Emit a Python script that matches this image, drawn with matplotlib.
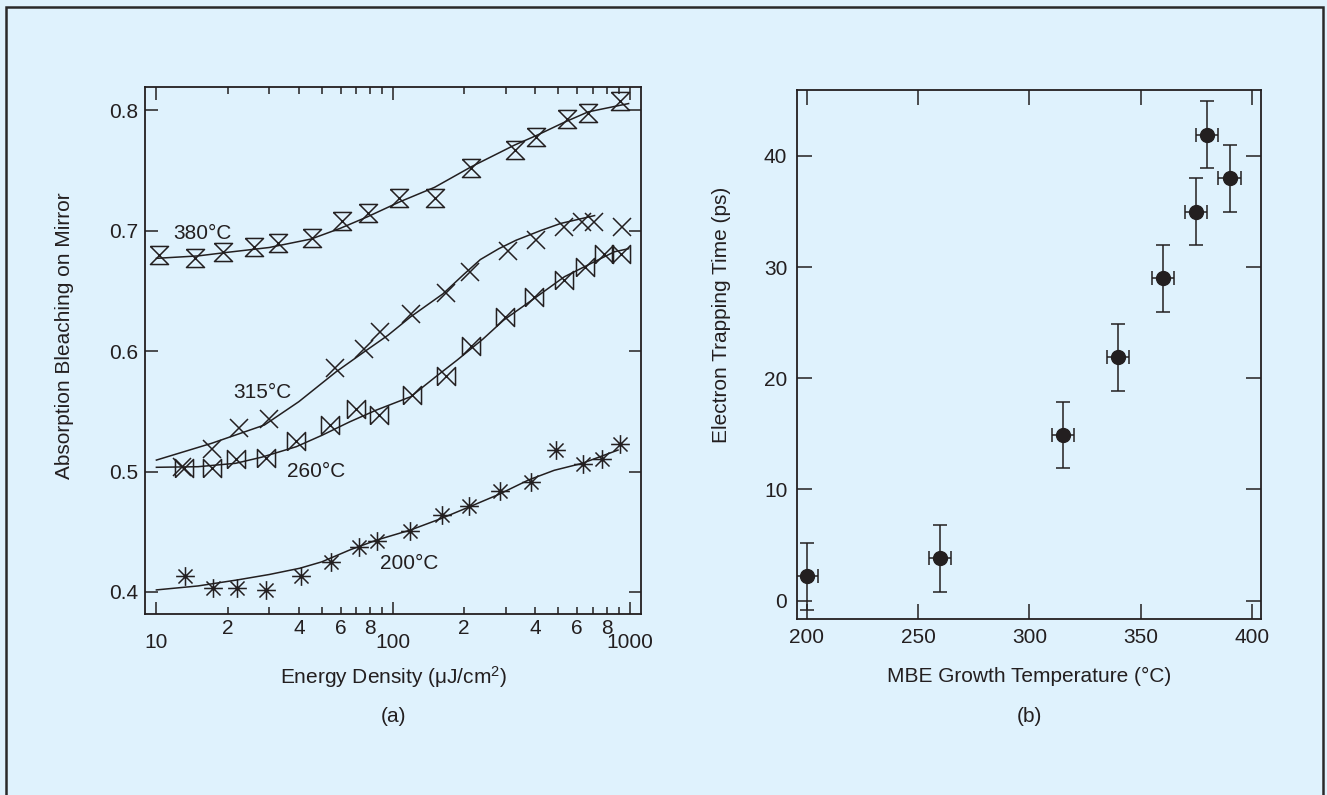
import numpy as np
import matplotlib
matplotlib.use("Agg")
import matplotlib.pyplot as plt
from matplotlib.path import Path
from matplotlib.patches import Rectangle
from matplotlib.ticker import FixedLocator, FuncFormatter

plt.rcParams['font.family'] = ['Liberation Sans', 'DejaVu Sans']
plt.rcParams['mathtext.fontset'] = 'custom'
plt.rcParams['mathtext.rm'] = 'Liberation Sans'
plt.rcParams['mathtext.it'] = 'Liberation Sans:italic'

ink = '#231f20'
bg = '#dff2fd'

# (a) absorption bleaching vs energy density, one series per growth temperature
e380 = [10.25, 14.5, 19.2, 25.8, 32.6, 45.4, 60.8, 78.3, 106, 150, 214, 328, 404, 543, 668, 907]
a380 = [0.680, 0.677, 0.682, 0.686, 0.690, 0.694, 0.708, 0.715, 0.727, 0.727, 0.752, 0.767, 0.778, 0.793, 0.798, 0.808]
fit380_e = [10, 15, 20, 30, 45, 60, 78, 107, 150, 214, 326, 404, 530, 668, 990]
fit380_a = [0.677, 0.679, 0.682, 0.686, 0.693, 0.702, 0.7115, 0.724, 0.736, 0.753, 0.771, 0.779, 0.790, 0.7986, 0.8055]

e315 = [12.8, 17.1, 22.3, 29.9, 56.7, 75.6, 88.5, 118.8, 168, 211, 306, 404, 530, 630, 706, 929]
a315 = [0.504, 0.519, 0.536, 0.544, 0.586, 0.602, 0.616, 0.631, 0.648, 0.666, 0.683, 0.692, 0.703, 0.707, 0.707, 0.703]
fit315_e = [10, 17.1, 28.6, 40, 57.5, 75.6, 95, 118.8, 162.5, 200, 234, 280, 331, 420, 512, 711]
fit315_a = [0.5095, 0.5234, 0.5386, 0.558, 0.5828, 0.5994, 0.613, 0.6285, 0.6475, 0.664, 0.676, 0.685, 0.692, 0.700, 0.706, 0.7125]

e260 = [13.07, 17.1, 21.6, 29.1, 38.8, 54.4, 70.0, 86.9, 120, 168, 214, 298, 394, 530, 645, 777, 923]
a260 = [0.503, 0.503, 0.510, 0.511, 0.525, 0.539, 0.552, 0.547, 0.5635, 0.579, 0.604, 0.628, 0.645, 0.659, 0.670, 0.681, 0.681]
fit260_e = [10, 15, 21.6, 28, 39, 50, 65.7, 85, 118.8, 150, 186.6, 240, 293.5, 404, 530, 861, 990]
fit260_a = [0.5035, 0.504, 0.5068, 0.512, 0.5206, 0.530, 0.5413, 0.551, 0.5621, 0.578, 0.5925, 0.610, 0.6257, 0.645, 0.6617, 0.6824, 0.685]

e200 = [13.15, 17.4, 22.0, 29.1, 40.7, 54.8, 71.8, 85.4, 118, 161, 209, 283, 384, 490, 635, 762, 907]
a200 = [0.413, 0.403, 0.403, 0.402, 0.413, 0.425, 0.437, 0.442, 0.451, 0.464, 0.471, 0.484, 0.491, 0.518, 0.506, 0.510, 0.523]
fit200_e = [10, 15, 22, 30, 40.4, 50, 65.7, 85, 118.8, 160, 211, 280, 374, 480, 630, 893]
fit200_a = [0.4017, 0.405, 0.410, 0.4145, 0.4197, 0.425, 0.4349, 0.443, 0.4515, 0.461, 0.4708, 0.481, 0.493, 0.501, 0.5068, 0.5178]

temp_labels = ['380°C', '315°C', '260°C', '200°C']
label_e = [15.6, 28.1, 47.3, 116.8]
label_a = [0.698, 0.566, 0.500, 0.424]

# (b) electron trapping time vs MBE growth temperature
temps = [200, 260, 315, 340, 360, 375, 380, 390]
trap = [2.2, 3.8, 14.9, 21.9, 29.0, 35.0, 41.9, 38.0]
trap_err = [3, 3, 3, 3, 3, 3, 3, 3]
temp_err = [5, 5, 5, 5, 5, 5, 5, 5]

# open marker shapes
L, M = Path.LINETO, Path.MOVETO
hourglass = Path([(-1, 1), (1, 1), (-1, -1), (1, -1), (-1, 1)], [M, L, L, L, L])
bowtie = Path([(-1, -1), (-1, 1), (1, -1), (1, 1), (-1, -1)], [M, L, L, L, L])
d = 0.75
asterisk = Path([(-1, 0), (1, 0), (0, -1), (0, 1), (-d, -d), (d, d), (-d, d), (d, -d)],
                [M, L, M, L, M, L, M, L])

fig = plt.figure(figsize=(13.27, 7.95), dpi=100, facecolor=bg)
W, H = 1327, 795

def px_axes(x0, y0, x1, y1):
    return fig.add_axes([x0 / W, 1 - y1 / H, (x1 - x0) / W, (y1 - y0) / H])

ax1 = px_axes(145, 87.3, 641, 614)
ax2 = px_axes(797, 90, 1261, 618.7)

for ax in (ax1, ax2):
    ax.set_facecolor(bg)
    for s in ax.spines.values():
        s.set_color(ink)
        s.set_linewidth(1.3)

# ---- panel (a)
mk = dict(color=ink, mfc='none', mec=ink, mew=1.1, ls='none')
ax1.plot(fit380_e, fit380_a, color=ink, lw=1.1)
ax1.plot(fit315_e, fit315_a, color=ink, lw=1.1)
ax1.plot(fit260_e, fit260_a, color=ink, lw=1.1)
ax1.plot(fit200_e, fit200_a, color=ink, lw=1.1)
ax1.plot(e380, a380, marker=hourglass, ms=13, **mk)
ax1.plot(e315, a315, marker='x', ms=12.5, **mk)
ax1.plot(e260, a260, marker=bowtie, ms=13, **mk)
ax1.plot(e200, a200, marker=asterisk, ms=13.5, **mk)
for t, x, y in zip(temp_labels, label_e, label_a):
    ax1.text(x, y, t, ha='center', va='center', fontsize=15, color=ink)

ax1.set_xscale('log')
ax1.set_xlim(8.95, 1117)
ax1.set_ylim(0.3817, 0.819)
ax1.xaxis.set_major_locator(FixedLocator([10, 100, 1000]))
ax1.xaxis.set_minor_locator(FixedLocator([m * 10 ** k for k in (1, 2) for m in range(2, 10)]))
ax1.xaxis.set_major_formatter(FuncFormatter(lambda v, p: f'{v:g}'))

def minor_lab(v, p):
    lead = int(round(v / 10 ** np.floor(np.log10(v))))
    return str(lead) if lead in (2, 4, 6, 8) else ''

ax1.xaxis.set_minor_formatter(FuncFormatter(minor_lab))
ax1.yaxis.set_major_locator(FixedLocator([0.4, 0.5, 0.6, 0.7, 0.8]))
ax1.yaxis.set_major_formatter(FuncFormatter(lambda v, p: f'{v:.1f}'))
ax1.tick_params(which='both', direction='in', top=True, right=True, colors=ink, labelsize=15, width=1.1)
ax1.tick_params(axis='x', which='major', length=9, pad=13.5)
ax1.tick_params(axis='x', which='minor', length=5.2, pad=3.5)
ax1.tick_params(axis='y', which='major', length=9, pad=5)
ax1.tick_params(axis='y', which='minor', left=False, right=False)

# ---- panel (b)
ax2.errorbar(temps, trap, yerr=trap_err, xerr=temp_err, fmt='o', ms=10, color=ink,
             mfc=ink, mec=ink, elinewidth=1.1, capsize=5.2, capthick=1.1)
ax2.set_xlim(195.6, 404.1)
ax2.set_ylim(-1.62, 45.93)
ax2.xaxis.set_major_locator(FixedLocator([200, 250, 300, 350, 400]))
ax2.yaxis.set_major_locator(FixedLocator([0, 10, 20, 30, 40]))
ax2.tick_params(which='major', direction='in', top=True, right=True, colors=ink,
                labelsize=15, width=1.1, length=10.8, pad=7)

# ---- labels
fig.text(65 / W, 1 - 336 / H, 'Absorption Bleaching on Mirror', rotation=90,
         ha='center', va='center', fontsize=15, color=ink)
fig.text(393 / W, 1 - 676.7 / H, r'Energy Density ($\mathrm{\mu}$J/cm$^{2}$)',
         ha='center', va='center', fontsize=15, color=ink)
fig.text(393 / W, 1 - 716 / H, '(a)', ha='center', va='center', fontsize=15, color=ink)
fig.text(721.7 / W, 1 - 315 / H, 'Electron Trapping Time (ps)', rotation=90,
         ha='center', va='center', fontsize=15, color=ink)
fig.text(1029 / W, 1 - 676 / H, 'MBE Growth Temperature (°C)',
         ha='center', va='center', fontsize=15, color=ink)
fig.text(1029 / W, 1 - 716 / H, '(b)', ha='center', va='center', fontsize=15, color=ink)

# outer frame (bottom edge runs off the image)
fig.patches.append(Rectangle((6 / W, -0.1), (1323.3 - 6) / W, 1.1 - 7.3 / H,
                             transform=fig.transFigure, fill=False, ec='#2a2a2a', lw=1.8))

fig.savefig('out.png', dpi=100, facecolor=bg)
